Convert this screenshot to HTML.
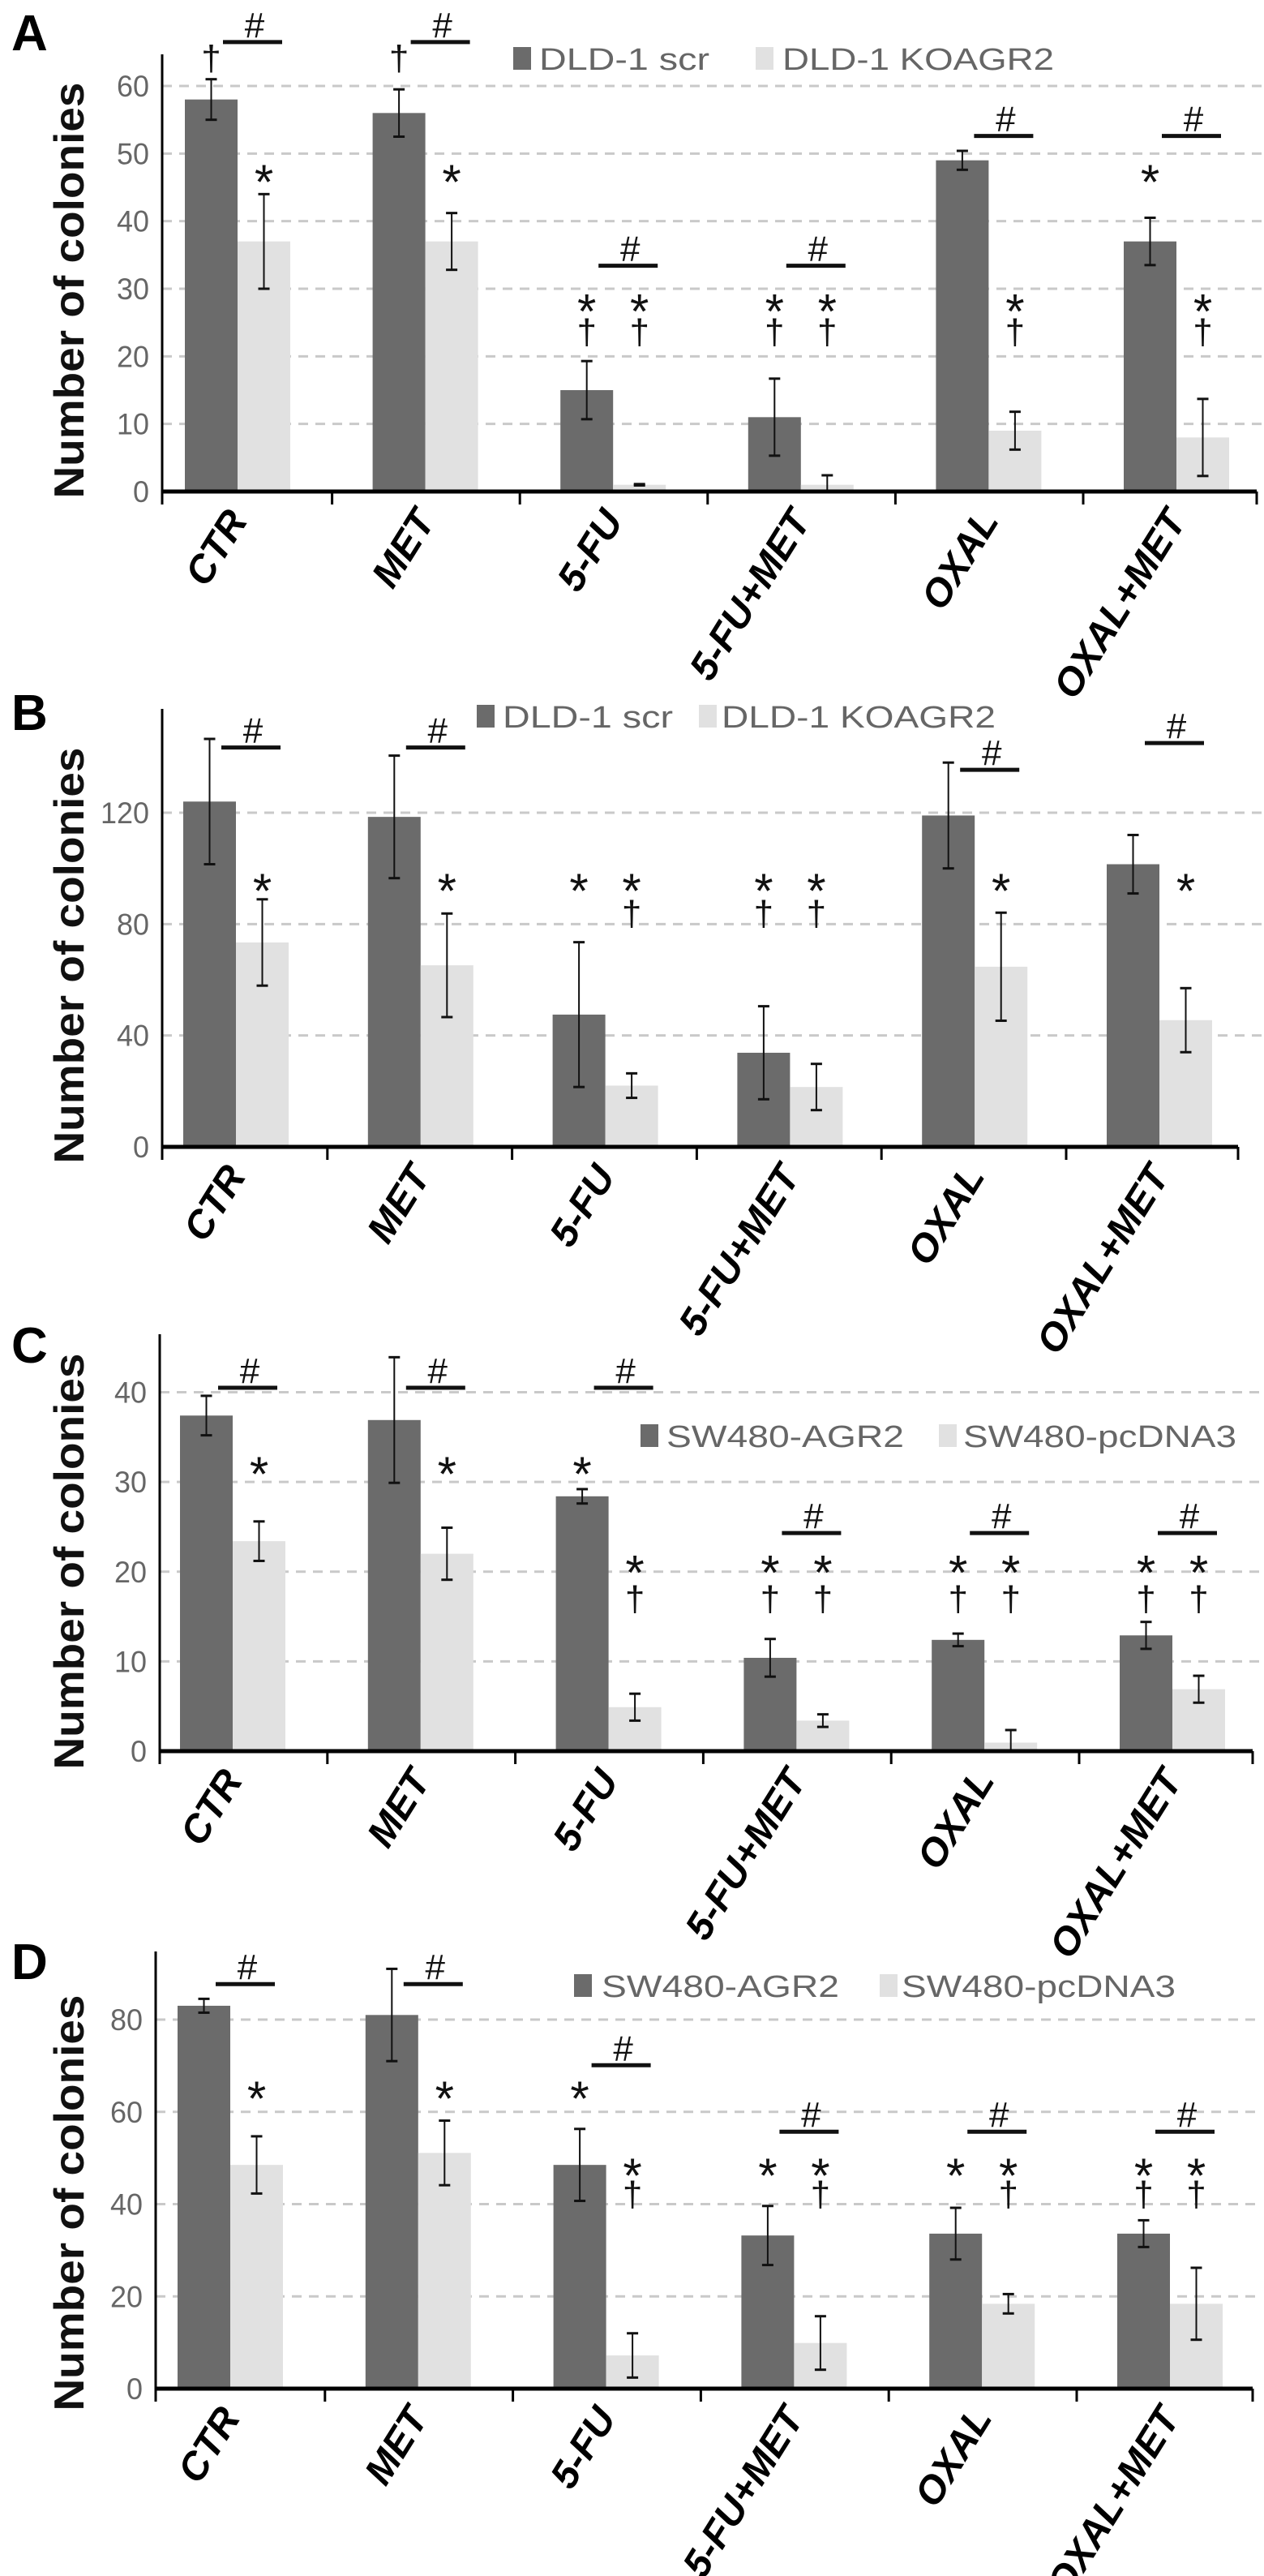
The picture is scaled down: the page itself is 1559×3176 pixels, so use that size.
<!DOCTYPE html>
<html><head><meta charset="utf-8"><title>Number of colonies – panels A–D</title>
<style>
html,body{margin:0;padding:0;background:#fff;}
svg{display:block;}
</style></head>
<body>
<svg id="chart" width="1559" height="3176" viewBox="0 0 1559 3176" xmlns="http://www.w3.org/2000/svg"></svg>
<script>
// ---------- DATA ----------
const categories = ["CTR","MET","5-FU","5-FU+MET","OXAL","OXAL+MET"];

const aTicks = [0,10,20,30,40,50,60];
const aSeries1 = [58,56,15,11,49,37];
const aErr1 = [3,3.5,4.3,5.7,1.4,3.5];
const aSeries2 = [37,37,1,1,9,8];
const aErr2 = [7,4.2,0.1,1.4,2.8,5.7];
const aLegend = ["DLD-1 scr","DLD-1 KOAGR2"];
const aHash = [66.5,66.5,33.4,33.4,52.6,52.6];
const aMarks = [[0,0,"†",64],[0,1,"*",47.5],[1,0,"†",64],[1,1,"*",47.5],
 [2,0,"*",28.4],[2,0,"†",23.5],[2,1,"*",28.4],[2,1,"†",23.5],
 [3,0,"*",28.4],[3,0,"†",23.5],[3,1,"*",28.4],[3,1,"†",23.5],
 [4,1,"*",28.4],[4,1,"†",23.5],[5,0,"*",47.5],[5,1,"*",28.4],[5,1,"†",23.5]];

const bTicks = [0,40,80,120];
const bSeries1 = [124,118.5,47.5,33.8,119,101.5];
const bErr1 = [22.5,22,26,16.7,19,10.5];
const bSeries2 = [73.4,65.2,22,21.5,64.7,45.5];
const bErr2 = [15.5,18.6,4.4,8.3,19.4,11.5];
const bLegend = ["DLD-1 scr","DLD-1 KOAGR2"];
const bHash = [143.4,143.4,null,null,135.4,145];
const bMarks = [[0,1,"*",96.1],[1,1,"*",96.1],
 [2,0,"*",96.1],[2,1,"*",96.1],[2,1,"†",83.6],
 [3,0,"*",96.1],[3,0,"†",83.6],[3,1,"*",96.1],[3,1,"†",83.6],
 [4,1,"*",96.1],[5,1,"*",96.1]];

const cTicks = [0,10,20,30,40];
const cSeries1 = [37.4,36.9,28.4,10.4,12.4,12.9];
const cErr1 = [2.2,7,0.8,2.1,0.7,1.5];
const cSeries2 = [23.4,22,4.9,3.4,0.95,6.9];
const cErr2 = [2.2,2.9,1.5,0.7,1.4,1.5];
const cLegend = ["SW480-AGR2","SW480-pcDNA3"];
const cHash = [40.5,40.5,40.5,24.3,24.3,24.3];
const cMarks = [[0,1,"*",32.2],[1,1,"*",32.2],[2,0,"*",32.2],[2,1,"*",21.2],[2,1,"†",16.9],
 [3,0,"*",21.2],[3,0,"†",16.9],[3,1,"*",21.2],[3,1,"†",16.9],
 [4,0,"*",21.2],[4,0,"†",16.9],[4,1,"*",21.2],[4,1,"†",16.9],
 [5,0,"*",21.2],[5,0,"†",16.9],[5,1,"*",21.2],[5,1,"†",16.9]];

const dTicks = [0,20,40,60,80];
const dSeries1 = [83,81,48.5,33.2,33.6,33.6];
const dErr1 = [1.5,10,7.8,6.4,5.6,2.9];
const dSeries2 = [48.5,51.1,7.2,9.9,18.4,18.4];
const dErr2 = [6.2,7,4.8,5.8,2.1,7.8];
const dLegend = ["SW480-AGR2","SW480-pcDNA3"];
const dHash = [87.7,87.7,70.1,55.7,55.7,55.7];
const dMarks = [[0,1,"*",65.4],[1,1,"*",65.4],[2,0,"*",65.4],[2,1,"*",48.7],[2,1,"†",42],
 [3,0,"*",48.7],[3,1,"*",48.7],[3,1,"†",42],
 [4,0,"*",48.7],[4,1,"*",48.7],[4,1,"†",42],
 [5,0,"*",48.7],[5,0,"†",42],[5,1,"*",48.7],[5,1,"†",42]];

// ---------- RENDER ----------
const NS = "http://www.w3.org/2000/svg";
const svg = document.getElementById("chart");
function mk(tag, attrs, parent, text){
  const e = document.createElementNS(NS, tag);
  for (const k in attrs) e.setAttribute(k, attrs[k]);
  if (text !== undefined) e.textContent = text;
  (parent || svg).appendChild(e);
  return e;
}

const panels = [
 {id:"a", letter:"A", ly:62, zero:606, top:67, k:500/60, axisX:200, right:1550, x0:228, sp:231.6,
  ticks:aTicks, s1:aSeries1, e1:aErr1, s2:aSeries2, e2:aErr2, legend:aLegend, hash:aHash, marks:aMarks,
  leg:{y:72, sq1:633, t1:665, w1:210, sq2:932, t2:965, w2:335}, titleY:358},
 {id:"b", letter:"B", ly:900, zero:1414, top:874, k:412/120, axisX:200, right:1527, x0:226, sp:227.8,
  ticks:bTicks, s1:bSeries1, e1:bErr1, s2:bSeries2, e2:bErr2, legend:bLegend, hash:bHash, marks:bMarks,
  leg:{y:883, sq1:588, t1:620, w1:210, sq2:862, t2:890, w2:338}, titleY:1178},
 {id:"c", letter:"C", ly:1680, zero:2159, top:1645, k:442.5/40, axisX:197, right:1545, x0:222, sp:231.8,
  ticks:cTicks, s1:cSeries1, e1:cErr1, s2:cSeries2, e2:cErr2, legend:cLegend, hash:cHash, marks:cMarks,
  leg:{y:1770, sq1:790, t1:822, w1:293, sq2:1158, t2:1188, w2:337}, titleY:1925},
 {id:"d", letter:"D", ly:2440, zero:2945, top:2406, k:455/80, axisX:192, right:1545, x0:219, sp:231.8,
  ticks:dTicks, s1:dSeries1, e1:dErr1, s2:dSeries2, e2:dErr2, legend:dLegend, hash:dHash, marks:dMarks,
  leg:{y:2448, sq1:708, t1:742, w1:293, sq2:1085, t2:1112, w2:338}, titleY:2716}
];

const BW = 65;
panels.forEach(p => {
  const y = v => p.zero - v * p.k;
  const xd = i => p.x0 + i * p.sp;
  const g = mk("g", {});
  
  

  const letter = mk("text", {x:14, y:p.ly, "font-family":"Liberation Sans, sans-serif", "font-weight":"bold", "font-size":62, fill:"#000"}, g, p.letter);
  
  

  p.ticks.forEach(t => {
    if (t > 0) {
      const gl = mk("line", {x1:p.axisX, x2:1556, y1:y(t), y2:y(t), stroke:"#c9c9c9", "stroke-width":3, "stroke-dasharray":"12 9"}, g);
      
      
    }
    const s = String(t);
    const tl = mk("text", {x:p.axisX - 16, y:y(t) + 13, "text-anchor":"end", "font-family":"Liberation Sans Narrow, Liberation Sans, sans-serif", "font-size":37, fill:"#666", textLength:s.length * 20, lengthAdjust:"spacingAndGlyphs"}, g, s);
    
    
  });

  categories.forEach((c, i) => {
    const b1 = mk("rect", {x:xd(i), y:y(p.s1[i]), width:BW, height:p.s1[i]*p.k, fill:"#6b6b6b"}, g);
    
    
    const b2 = mk("rect", {x:xd(i)+BW, y:y(p.s2[i]), width:BW, height:p.s2[i]*p.k, fill:"#e1e1e1"}, g);
    
    
    [[p.s1, p.e1, xd(i)+BW/2], [p.s2, p.e2, xd(i)+BW*1.5]].forEach(([s, e, cx]) => {
      const eg = mk("g", {stroke:"#111", "stroke-width":2}, g);
      
      
      const lo = Math.max(0, s[i]-e[i]), hi = s[i]+e[i];
      mk("line", {x1:cx, x2:cx, y1:y(lo), y2:y(hi)}, eg);
      mk("line", {x1:cx-7, x2:cx+7, y1:y(hi), y2:y(hi), "stroke-width":3}, eg);
      mk("line", {x1:cx-7, x2:cx+7, y1:y(lo), y2:y(lo), "stroke-width":3}, eg);
    });
    const cx = xd(i) + BW/2 + 46, cy = p.zero + 36;
    const cl = mk("text", {x:cx, y:cy, "text-anchor":"end", "font-family":"Liberation Sans, sans-serif", "font-weight":"bold", "font-style":"italic", "font-size":48, fill:"#000", transform:`rotate(-58 ${cx} ${cy})`}, g, c);
    
    
    if (p.hash[i] !== null) {
      const hy = y(p.hash[i]);
      const hl = mk("line", {x1:xd(i)+47, x2:xd(i)+120, y1:hy, y2:hy, stroke:"#111", "stroke-width":5}, g);
      
      
      const ht = mk("text", {x:xd(i)+86, y:hy-6, "text-anchor":"middle", "font-family":"Liberation Sans, sans-serif", "font-size":44, fill:"#111"}, g, "#");
      
      
    }
  });

  p.marks.forEach(m => {
    const cx = xd(m[0]) + BW/2 + m[1]*BW;
    const cy = y(m[3]);
    const star = m[2] === "*";
    const t = mk("text", {x:cx, y:star ? cy+35 : cy+14, "text-anchor":"middle", "font-family":"Liberation Sans, sans-serif", "font-size":star ? 60 : 44, fill:"#111"}, g, m[2]);
    
    
  });

  const ya = mk("line", {x1:p.axisX, x2:p.axisX, y1:p.top, y2:p.zero+2, stroke:"#000", "stroke-width":3}, g);
  
  
  const xa = mk("line", {x1:p.axisX, x2:p.right, y1:p.zero, y2:p.zero, stroke:"#000", "stroke-width":5}, g);
  
  
  for (let i = 0; i <= 6; i++) {
    const tx = i === 0 ? p.axisX : (i === 6 ? p.right : p.x0 - 50 + i * p.sp);
    const tk = mk("line", {x1:tx, x2:tx, y1:p.zero, y2:p.zero+16, stroke:"#000", "stroke-width":3}, g);
    
    
  }

  const tx = 86;
  const yt = mk("text", {x:tx, y:p.titleY, "text-anchor":"middle", "dominant-baseline":"central", "font-family":"Liberation Sans, sans-serif", "font-weight":"bold", "font-size":52, fill:"#111", textLength:513, lengthAdjust:"spacingAndGlyphs", transform:`rotate(-90 ${tx} ${p.titleY})`}, g, "Number of colonies");
  
  

  const L = p.leg;
  const lg = mk("g", {}, g);
  
  
  const s1 = mk("rect", {x:L.sq1, y:L.y-14, width:22, height:28, fill:"#6b6b6b"}, lg);
  
  
  const t1 = mk("text", {x:L.t1, y:L.y+14, "font-family":"Liberation Sans Narrow, Liberation Sans, sans-serif", "font-size":38, fill:"#666", textLength:L.w1, lengthAdjust:"spacingAndGlyphs"}, lg, p.legend[0]);
  
  
  const s2 = mk("rect", {x:L.sq2, y:L.y-14, width:22, height:28, fill:"#e1e1e1"}, lg);
  
  
  const t2 = mk("text", {x:L.t2, y:L.y+14, "font-family":"Liberation Sans Narrow, Liberation Sans, sans-serif", "font-size":38, fill:"#666", textLength:L.w2, lengthAdjust:"spacingAndGlyphs"}, lg, p.legend[1]);
  
  
});
</script>
</body></html>
